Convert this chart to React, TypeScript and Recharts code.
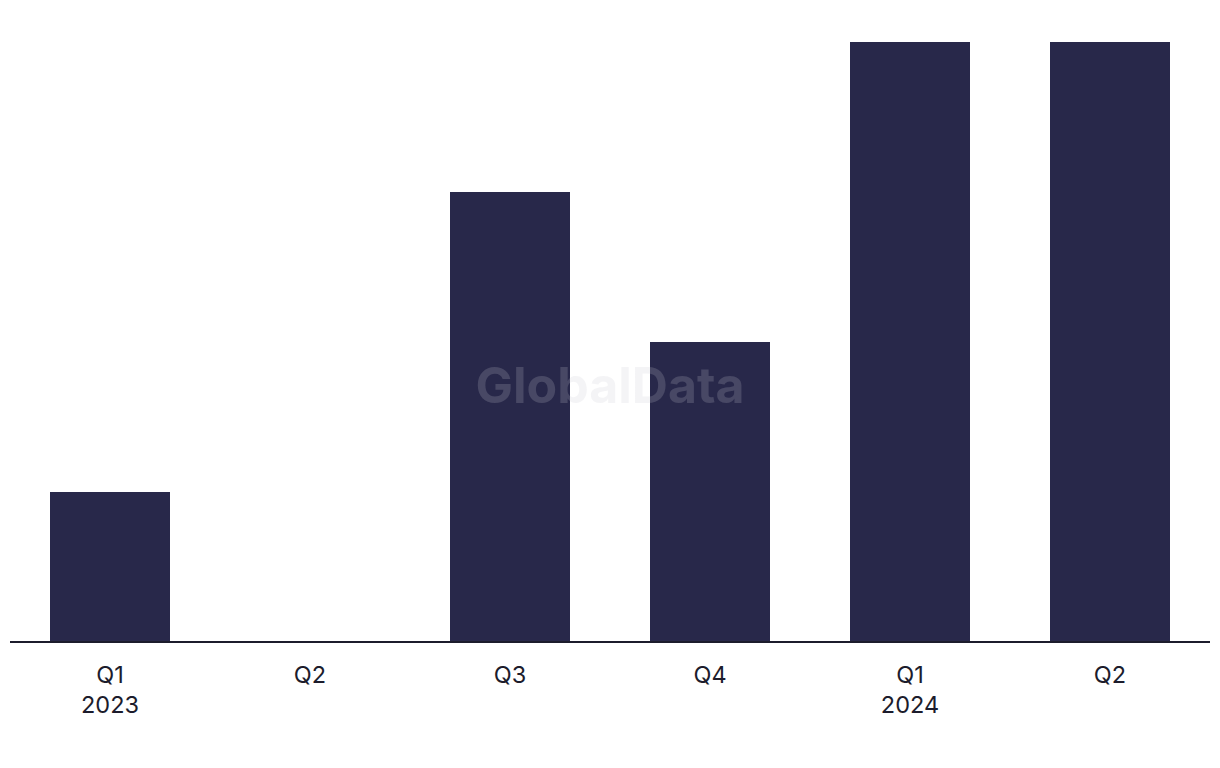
import React from 'react';
import { BarChart, Bar, XAxis, YAxis } from 'recharts';

const quarters = ['Q1', 'Q2', 'Q3', 'Q4', 'Q1', 'Q2'];
const years = ['2023', '', '', '', '2024', ''];
const deals = [1, 0, 3, 2, 4, 4];

const data = quarters.map((q, i) => ({ key: `${q}-${i}`, quarter: q, year: years[i], value: deals[i] }));

const BAR = '#28284a';
const INK = '#1c1c2c';

interface TickProps {
  x?: number;
  y?: number;
  index?: number;
}

function QuarterTick({ x = 0, y = 0, index = 0 }: TickProps) {
  return (
    <text x={x} y={y} textAnchor="middle" fill={INK} fontSize={23.5} fontFamily="Inter, 'Noto Sans', sans-serif">
      <tspan x={x} dy={33}>{quarters[index]}</tspan>
      {years[index] && <tspan x={x} dy={30}>{years[index]}</tspan>}
    </text>
  );
}

export default function App() {
  return (
    <div style={{ position: 'absolute', left: 0, top: 0, width: 1220, height: 768, background: '#fff' }}>
      <BarChart
        width={1220}
        height={768}
        data={data}
        margin={{ top: 42, right: 10, bottom: 0, left: 10 }}
        barCategoryGap="20%"
      >
        <XAxis
          dataKey="key"
          height={126}
          axisLine={{ stroke: INK, strokeWidth: 2 }}
          tickLine={false}
          interval={0}
          tick={<QuarterTick />}
        />
        <YAxis hide domain={[0, 4]} />
        <Bar dataKey="value" fill={BAR} isAnimationActive={false} />
      </BarChart>
      {/* watermark sits over the bars */}
      <div
        style={{
          position: 'absolute',
          left: 0,
          width: 1220,
          top: 350,
          textAlign: 'center',
          fontFamily: "Inter, 'Noto Sans', sans-serif",
          fontWeight: 700,
          fontSize: 50,
          lineHeight: '70px',
          color: 'rgba(200, 200, 212, 0.2)',
          pointerEvents: 'none',
        }}
      >
        GlobalData
      </div>
    </div>
  );
}
